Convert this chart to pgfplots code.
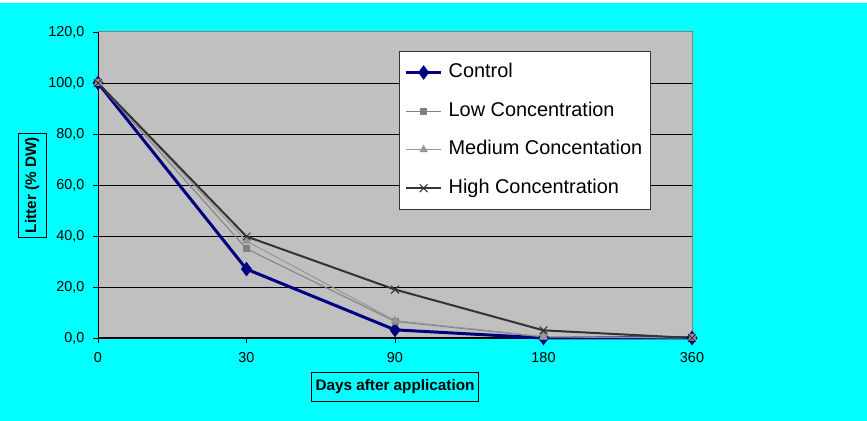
\documentclass[border=0pt]{standalone}
\usepackage{pgfplots}
\pgfplotsset{compat=1.18}
\usepackage{fontspec}
\setmainfont{Liberation Sans}
\definecolor{bgcyan}{RGB}{0,255,255}
\definecolor{plotgray}{RGB}{192,192,192}
\definecolor{bordergray}{RGB}{128,128,128}
\definecolor{ctrl}{RGB}{0,0,128}
\definecolor{lowc}{RGB}{128,128,128}
\definecolor{medc}{RGB}{150,150,150}
\definecolor{highc}{RGB}{51,51,51}
\begin{document}
\begin{tikzpicture}
\fill[white] (0,0) rectangle (867bp,421bp);
\fill[bgcyan] (0,0) rectangle (867bp,418bp);
\begin{axis}[
  at={(98bp,83bp)}, anchor=south west,
  scale only axis, width=594bp, height=306bp,
  xmin=0, xmax=4, ymin=0, ymax=120,
  clip=false,
  axis background/.style={fill=plotgray, draw=bordergray, line width=1bp},
  axis x line*=bottom, axis y line*=left,
  axis line style={-, black, line width=1bp},
  xtick={0,1,2,3,4}, xticklabels={0,30,90,180,360},
  ytick={0,20,40,60,80,100},
  extra y ticks={120}, extra y tick style={grid=none},
  ymajorgrids, major grid style={black, line width=0.8bp},
  tick align=outside, major tick length=5bp,
  tick style={black, line width=0.8bp},
  /pgf/number format/.cd, fixed, fixed zerofill, precision=1, use comma, assume math mode=true,
  /pgfplots/.cd,
  ticklabel style={font=\fontsize{14.4bp}{16bp}\selectfont},
  yticklabel style={xshift=-5bp},
  xticklabel style={yshift=-6bp},
  xlabel={Days after application},
  ylabel={Litter (\% DW)},
  xlabel style={at={(rel axis cs:0.5,-0.160)}, anchor=center, draw=black, line width=0.8bp,
    font=\bfseries\fontsize{15.3bp}{18bp}\selectfont, inner xsep=4bp, inner ysep=7bp},
  ylabel style={at={(rel axis cs:-0.111,0.5)}, anchor=center, draw=black, line width=0.8bp,
    font=\bfseries\fontsize{15.3bp}{18bp}\selectfont, inner xsep=4bp, inner ysep=7bp},
  legend cell align=left,
  legend image code/.code={\draw[mark repeat=2,mark phase=2,#1] plot coordinates {(0bp,0bp)(17.5bp,0bp)(35bp,0bp)};},
  legend style={at={(rel axis cs:0.507,0.938)}, anchor=north west, draw=highc, line width=1bp, fill=white,
    font=\fontsize{19.9bp}{22bp}\selectfont, inner xsep=5bp, inner ysep=9bp, row sep=14.6bp,
    nodes={inner sep=3bp, text height=14bp, text depth=4bp},
    /tikz/every odd column/.append style={column sep=3bp}},
]
\addplot[ctrl, line width=3bp, mark=diamond*, mark size=6.5bp, mark options={solid, fill=ctrl, draw=ctrl, line width=1bp}]
  coordinates {(0,100)(1,27)(2,3.2)(3,0)(4,0)};
\addlegendentry{Control}
\addplot[lowc, line width=1bp, mark=square*, mark size=3bp, mark options={fill=lowc, draw=lowc}]
  coordinates {(0,100)(1,35)(2,6.5)(3,0.4)(4,0)};
\addlegendentry{Low Concentration}
\addplot[medc, line width=1bp, mark=triangle*, mark size=4bp, mark options={fill=medc, draw=medc}]
  coordinates {(0,100)(1,38)(2,6.8)(3,0.6)(4,0)};
\addlegendentry{Medium Concentation}
\addplot[highc, line width=2bp, mark=x, mark size=5.5bp, mark options={draw=highc, line width=1bp}]
  coordinates {(0,100)(1,39.8)(2,19)(3,3)(4,0)};
\addlegendentry{High Concentration}
\end{axis}
\end{tikzpicture}
\end{document}
